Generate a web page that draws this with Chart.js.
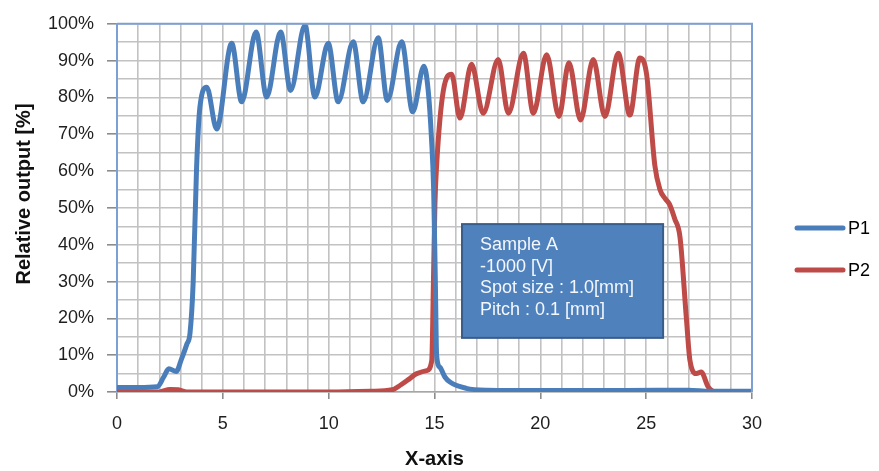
<!DOCTYPE html>
<html>
<head>
<meta charset="utf-8">
<script src="https://cdn.jsdelivr.net/npm/chart.js@4.4.1/dist/chart.umd.min.js"></script>
<style>
    html, body { margin: 0; padding: 0; background: #ffffff; }
</style>
</head>
<body>
<canvas id="profile_chart" width="879" height="471"></canvas>
<script>
// P1 profile (x position, relative output %)
const p1X = [0, 1.0, 1.9, 2.2, 2.45, 2.8, 3.05, 3.3, 3.45, 3.6, 3.76, 3.92, 4.24, 4.71, 5.42, 5.89, 6.57, 7.07, 7.73, 8.2, 8.88, 9.35, 9.98, 10.45, 11.16, 11.63, 12.34, 12.77, 13.45, 13.97, 14.5, 14.7, 14.86, 14.96, 15.04, 15.1, 15.26, 15.5, 15.73, 16.5, 17.5, 20, 24, 27, 28, 30];
const p1Y = [1.2, 1.2, 1.4, 4, 6.3, 5.6, 9, 13, 16, 30, 61, 77.5, 82.8, 71.4, 94.7, 78.8, 97.8, 80.1, 97.8, 81.9, 99.6, 80.1, 94.7, 78.8, 95.1, 78.8, 96.2, 79.2, 95.1, 76.1, 88.5, 82, 68.6, 55, 30, 10, 6.7, 4, 2.7, 1, 0.5, 0.4, 0.4, 0.5, 0.2, 0.2];

// P2 profile
const p2X = [0, 2.0, 2.5, 2.9, 3.3, 10, 12, 13.0, 13.4, 13.8, 14.16, 14.63, 14.87, 14.95, 15.02, 15.1, 15.42, 15.81, 16.2, 16.75, 17.3, 18.01, 18.49, 19.2, 19.67, 20.3, 20.88, 21.35, 21.9, 22.5, 23.05, 23.68, 24.23, 24.7, 25.02, 25.41, 25.65, 25.9, 26.1, 26.35, 26.6, 26.9, 27.07, 27.38, 27.6, 27.93, 28.3, 30];
const p2Y = [0, 0, 0.7, 0.6, 0, 0, 0.2, 0.6, 1.9, 3.5, 5, 5.8, 8.5, 30, 51, 61.5, 81.9, 86.3, 74.4, 89, 75.7, 90.3, 75.7, 92, 75.7, 91.6, 74.8, 89.4, 73.9, 90.3, 74.8, 92, 75.2, 90.7, 86.3, 61.5, 55, 52.5, 51, 47, 42, 20, 8.5, 5, 5.4, 1.4, 0, 0];

const seriesNames = ["P1", "P2"];
const noteLines = ["Sample A", "-1000 [V]", "Spot size : 1.0[mm]", "Pitch : 0.1 [mm]"];

function toPoints(xs, ys) {
    return xs.map((x, i) => ({ x: x, y: ys[i] }));
}

// plot frame (top/right), text box and side legend
const extrasPlugin = {
    id: 'extras',
    afterDatasetsDraw(chart) {
        const ctx = chart.ctx;
        const xs = chart.scales.x;
        const ys = chart.scales.y;
        const left = xs.getPixelForValue(16.3);
        const right = xs.getPixelForValue(25.8);
        const top = ys.getPixelForValue(45.6);
        const bottom = ys.getPixelForValue(14.7);
        ctx.save();
        ctx.fillStyle = '#4f81bd';
        ctx.strokeStyle = '#385d8a';
        ctx.lineWidth = 2;
        ctx.fillRect(left, top, right - left, bottom - top);
        ctx.strokeRect(left, top, right - left, bottom - top);
        ctx.fillStyle = '#f4f7fb';
        ctx.font = '18px "Liberation Sans", Arial, sans-serif';
        ctx.textBaseline = 'middle';
        ctx.textAlign = 'left';
        noteLines.forEach((line, i) => {
            ctx.fillText(line, left + 18, top + 21 + i * 21.7);
        });
        ctx.restore();
    },
    afterDraw(chart) {
        const ctx = chart.ctx;
        const area = chart.chartArea;
        ctx.save();
        ctx.strokeStyle = '#7da0d4';
        ctx.lineWidth = 2;
        ctx.beginPath();
        ctx.moveTo(area.left, area.top);
        ctx.lineTo(area.right, area.top);
        ctx.lineTo(area.right, area.bottom);
        ctx.stroke();

        ctx.font = '18px "Liberation Sans", Arial, sans-serif';
        ctx.textBaseline = 'middle';
        ctx.textAlign = 'left';
        chart.data.datasets.forEach((ds, i) => {
            const y = 228 + i * 42;
            ctx.strokeStyle = ds.borderColor;
            ctx.lineWidth = 5;
            ctx.lineCap = 'round';
            ctx.beginPath();
            ctx.moveTo(797, y);
            ctx.lineTo(843, y);
            ctx.stroke();
            ctx.fillStyle = '#000000';
            ctx.fillText(ds.label, 848, y + 1);
        });
        ctx.restore();
    }
};

function createProfileChart() {
    let chart = document.getElementById("profile_chart");
    const data = {
        datasets: [{
            label: seriesNames[0],
            data: toPoints(p1X, p1Y),
            borderColor: '#4a7ebb',
            borderWidth: 5,
            pointRadius: 0,
            cubicInterpolationMode: 'monotone',
            fill: false
        }, {
            label: seriesNames[1],
            data: toPoints(p2X, p2Y),
            borderColor: '#be4b48',
            borderWidth: 5,
            pointRadius: 0,
            cubicInterpolationMode: 'monotone',
            fill: false
        }]
    };

    const config = {
        type: 'line',
        data: data,
        options: {
            responsive: false,
            animation: false,
            devicePixelRatio: 1,
            layout: {
                padding: { top: 15, right: 127, bottom: 0, left: 0 }
            },
            plugins: {
                legend: { display: false },
                tooltip: { enabled: false }
            },
            scales: {
                x: {
                    type: 'linear',
                    min: 0,
                    max: 30,
                    afterFit: (scale) => { scale.height = 79; },
                    ticks: {
                        stepSize: 1,
                        autoSkip: false,
                        maxRotation: 0,
                        padding: 14,
                        color: '#1e1e1e',
                        font: { family: '"Liberation Sans", Arial, sans-serif', size: 18 },
                        callback: (v) => (v % 5 === 0 ? v : '')
                    },
                    grid: {
                        color: '#c2c2c2',
                        lineWidth: 1.6,
                        tickLength: 7,
                        tickColor: (c) => (c.tick && c.tick.value % 5 === 0 ? '#8c8c8c' : 'rgba(0,0,0,0)')
                    },
                    border: { color: '#a6a6a6', width: 1.5 },
                    title: {
                        display: true,
                        text: 'X-axis',
                        color: '#111111',
                        padding: { top: 0, bottom: 0 },
                        font: { family: '"Liberation Sans", Arial, sans-serif', size: 20, weight: 'bold' }
                    }
                },
                y: {
                    min: 0,
                    max: 100,
                    afterFit: (scale) => { scale.width = 117; },
                    ticks: {
                        stepSize: 5,
                        autoSkip: false,
                        padding: 13,
                        color: '#1e1e1e',
                        font: { family: '"Liberation Sans", Arial, sans-serif', size: 18 },
                        callback: (v) => (v % 10 === 0 ? v + '%' : '')
                    },
                    grid: {
                        color: '#c2c2c2',
                        lineWidth: 1.6,
                        tickLength: 10,
                        tickColor: (c) => (c.tick && c.tick.value % 10 === 0 ? '#8c8c8c' : 'rgba(0,0,0,0)')
                    },
                    border: { color: '#7da0d4', width: 2 },
                    title: {
                        display: true,
                        // leading spaces nudge the rotated title up a little, as in the original
                        text: '     Relative output [%]',
                        color: '#111111',
                        padding: { top: 12, bottom: 0 },
                        font: { family: '"Liberation Sans", Arial, sans-serif', size: 20, weight: 'bold' }
                    }
                }
            }
        },
        plugins: [extrasPlugin]
    };

    const myChart = new Chart(chart, config);
}

createProfileChart();
</script>
</body>
</html>
